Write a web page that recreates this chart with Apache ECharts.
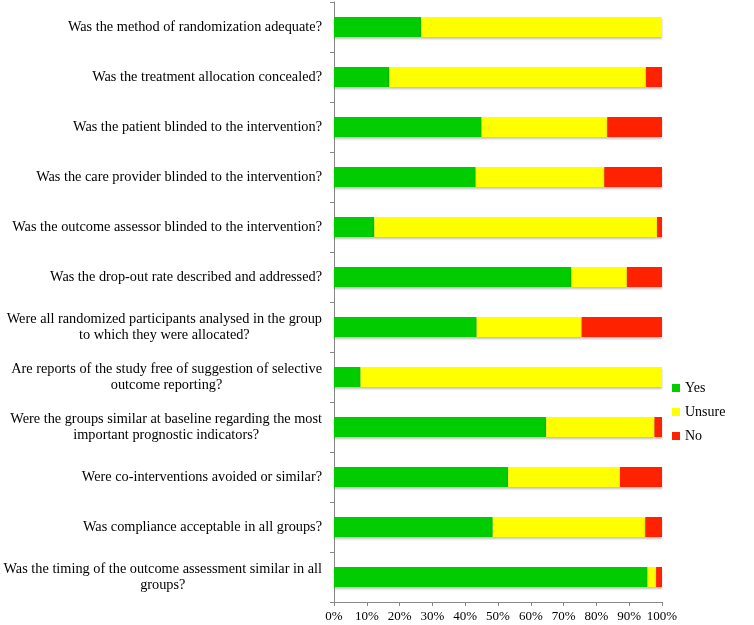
<!DOCTYPE html>
<html>
<head>
<meta charset="utf-8">
<script src="https://cdn.jsdelivr.net/npm/echarts@6/dist/echarts.min.js"></script>
<style>html,body{margin:0;padding:0;background:#fff}#c{width:754px;height:625px}</style>
</head>
<body>
<div id="c"></div>
<script>
var categories = [
  "Was the method of randomization adequate?",
  "Was the treatment allocation concealed?",
  "Was the patient blinded to the intervention?",
  "Was the care provider blinded to the intervention?",
  "Was the outcome assessor blinded to the intervention?",
  "Was the drop-out rate described and addressed?",
  "Were all randomized participants analysed in the group\nto which they were allocated?",
  "Are reports of the study free of suggestion of selective\noutcome reporting?",
  "Were the groups similar at baseline regarding the most\nimportant prognostic indicators?",
  "Were co-interventions avoided or similar?",
  "Was compliance acceptable in all groups?",
  "Was the timing of the outcome assessment similar in all\ngroups?"
];
var yesValues    = [26.6, 16.9, 45.0, 43.2, 12.3, 72.4, 43.5,  8.1, 64.7, 53.1, 48.4, 95.6];
var unsureValues = [73.4, 78.2, 38.3, 39.2, 86.2, 16.9, 32.0, 91.9, 33.0, 34.1, 46.5,  2.6];
var noValues     = [ 0.0,  4.9, 16.7, 17.6,  1.5, 10.7, 24.5,  0.0,  2.3, 12.8,  5.1,  1.8];
var xTicks = [0, 10, 20, 30, 40, 50, 60, 70, 80, 90, 100];
var seriesNames = ["Yes", "Unsure", "No"];

var font = "'Liberation Serif', 'Times New Roman', serif";
var chart = echarts.init(document.getElementById('c'));
var barStyle = function (color) {
  return { color: color, shadowColor: 'rgba(0,0,0,0.25)', shadowOffsetY: 2, shadowBlur: 2 };
};
chart.setOption({
  animation: false,
  textStyle: { fontFamily: font },
  grid: { left: 334, right: 92, top: 2, bottom: 23, containLabel: false, outerBoundsMode: 'none' },
  legend: {
    orient: 'vertical', left: 667, top: 376, itemWidth: 8, itemHeight: 8, itemGap: 10,
    icon: 'rect',
    textStyle: { fontFamily: font, fontSize: 14, color: '#000' },
    data: seriesNames
  },
  xAxis: {
    type: 'value', min: 0, max: 100, interval: 10,
    axisLine: { show: true, lineStyle: { color: '#888' } },
    axisTick: { show: true, length: 4, lineStyle: { color: '#888' } },
    splitLine: { show: false },
    axisLabel: {
      color: '#000', fontFamily: font, fontSize: 13, margin: 8,
      formatter: function (v) { return xTicks.indexOf(v) >= 0 ? v + '%' : ''; }
    }
  },
  yAxis: {
    type: 'category', inverse: true, data: categories,
    axisLine: { show: true, lineStyle: { color: '#888' } },
    axisTick: { show: true, length: 4, lineStyle: { color: '#888' } },
    axisLabel: {
      color: '#000', fontFamily: font, fontSize: 14.3, margin: 12, align: 'right', lineHeight: 16,
      formatter: function (v) { return v.split('\n').map(function (l) { return '{c|' + l + '}'; }).join('\n'); },
      rich: { c: { align: 'center', fontFamily: font, fontSize: 14.3, lineHeight: 16, color: '#000' } }
    }
  },
  series: [
    { name: 'Yes', type: 'bar', stack: 't', barWidth: 20, data: yesValues, itemStyle: barStyle('#00CC00') },
    { name: 'Unsure', type: 'bar', stack: 't', barWidth: 20, data: unsureValues, itemStyle: barStyle('#FFFF00') },
    { name: 'No', type: 'bar', stack: 't', barWidth: 20, data: noValues, itemStyle: barStyle('#FF2200') }
  ]
});
</script>
</body>
</html>
